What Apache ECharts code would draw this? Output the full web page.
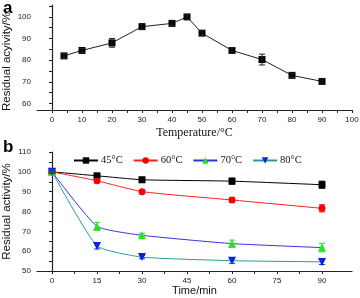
<!DOCTYPE html>
<html lang="en">
<head>
    <meta charset="UTF-8">
    <title>Residual activity</title>
    <style>
        html, body { margin: 0; padding: 0; background: #fff; }
    </style>
</head>
<body>
<div id="chart" style="width:360px;height:298px;"></div>
<script src="https://cdn.jsdelivr.net/npm/echarts@6/dist/echarts.min.js"></script>
<script>
// panel a: temperature
var tempX = [4, 10, 20, 30, 40, 45, 50, 60, 70, 80, 90];
var tempY = [82, 84.5, 88, 95.5, 97, 100, 92.5, 84.5, 80.3, 73, 70.2];
var tempErr = [1, 1, 2, 1.3, 1, 1, 1, 1.3, 2.5, 1, 1.2];

// panel b: time
var timeX = [0, 15, 30, 60, 90];
var seriesNames = ['45°C', '60°C', '70°C', '80°C'];
var v45 = [100, 98, 96, 95.3, 93.5];
var v60 = [100, 95.5, 90, 85.8, 81.6];
var v70 = [100, 72.5, 68, 63.8, 61.8];
var v80 = [100, 62.6, 57, 55.2, 54.6];
var e45 = [0.8, 1, 1.2, 1.5, 1.8];
var e60 = [0.8, 1, 1, 1.2, 1.8];
var e70 = [0.8, 2, 1, 1.8, 2.2];
var e80 = [0.8, 1.5, 0.8, 1.3, 1.3];

var tempTicks = [0, 10, 20, 30, 40, 50, 60, 70, 80, 90, 100];
var tempMinor = [0, 5, 10, 15, 20, 25, 30, 35, 40, 45, 50, 55, 60, 65, 70, 75, 80, 85, 90, 95, 100];
var actTicks = [60, 70, 80, 90, 100];
var actMinor = [60, 65, 70, 75, 80, 85, 90, 95, 100, 105];
var timeTicks = [0, 15, 30, 45, 60, 75, 90];
var timeMinor = [0, 7.5, 15, 22.5, 30, 37.5, 45, 52.5, 60, 67.5, 75, 82.5, 90];
var resTicks = [50, 60, 70, 80, 90, 100, 110];
var resMinor = [50, 55, 60, 65, 70, 75, 80, 85, 90, 95, 100, 105, 110];

var myChart = echarts.init(document.getElementById('chart'));

function pairs(xs, ys, es) {
    var res = [];
    for (var i = 0; i < xs.length; i++) {
        res.push(es ? [xs[i], ys[i], es[i]] : [xs[i], ys[i]]);
    }
    return res;
}

function errorBars(color) {
    return function (params, api) {
        var x = api.value(0), y = api.value(1), e = api.value(2);
        var hi = api.coord([x, y + e]);
        var lo = api.coord([x, y - e]);
        var w = 3;
        var st = { stroke: color, lineWidth: 1 };
        return {
            type: 'group',
            children: [
                { type: 'line', shape: { x1: hi[0], y1: hi[1], x2: lo[0], y2: lo[1] }, style: st },
                { type: 'line', shape: { x1: hi[0] - w, y1: hi[1], x2: hi[0] + w, y2: hi[1] }, style: st },
                { type: 'line', shape: { x1: lo[0] - w, y1: lo[1], x2: lo[0] + w, y2: lo[1] }, style: st }
            ]
        };
    };
}

var axisLine = { lineStyle: { color: '#222', width: 1.2 } };
var tickLabel = { fontSize: 8, color: '#222', fontFamily: 'Liberation Sans', margin: 6 };
var nameFont = { fontFamily: 'Liberation Sans', fontSize: 11.5, color: '#111', padding: [0, 8, 0, 0] };

var bLines = [
    { name: seriesNames[0], v: v45, e: e45, mark: '#000', line: '#000', sym: 'rect', size: 7 },
    { name: seriesNames[1], v: v60, e: e60, mark: '#ff0000', line: '#ff2020', sym: 'circle', size: 7 },
    { name: seriesNames[2], v: v70, e: e70, mark: '#22e622', line: '#3333dd', sym: 'triangle', size: 8 },
    { name: seriesNames[3], v: v80, e: e80, mark: '#0a1ee6', line: '#2a9a9a', sym: 'path://M0,0L10,0L5,10z', size: 8 }
];

var series = [
    {
        type: 'line',
        xAxisIndex: 0, yAxisIndex: 0,
        data: pairs(tempX, tempY),
        symbol: 'rect', symbolSize: 7,
        itemStyle: { color: '#000' },
        lineStyle: { color: '#222', width: 1 },
        z: 3
    },
    {
        type: 'custom',
        xAxisIndex: 0, yAxisIndex: 0,
        data: pairs(tempX, tempY, tempErr),
        renderItem: errorBars('#222'),
        z: 4
    }
];

bLines.forEach(function (s) {
    series.push({
        name: s.name,
        type: 'line',
        xAxisIndex: 1, yAxisIndex: 1,
        data: pairs(timeX, s.v),
        smooth: 0.15,
        symbol: s.sym, symbolSize: s.size,
        itemStyle: { color: s.mark },
        lineStyle: { color: s.line, width: 1 },
        z: 3
    });
    series.push({
        type: 'custom',
        xAxisIndex: 1, yAxisIndex: 1,
        data: pairs(timeX, s.v, s.e),
        renderItem: errorBars(s.mark),
        z: 4
    });
});

myChart.setOption({
    animation: false,
    grid: [
        { left: 37, right: 8, top: 5, bottom: 188, outerBoundsMode: 'none' },
        { left: 37, right: 8, top: 152, bottom: 27, outerBoundsMode: 'none' }
    ],
    legend: {
        data: seriesNames,
        left: 68, top: 150,
        itemWidth: 24, itemHeight: 8, itemGap: 10,
        textStyle: { fontFamily: 'Liberation Serif', fontSize: 10.5, color: '#111', padding: [0, 0, 0, -2] }
    },
    graphic: [
        { type: 'text', left: 3, top: 0, style: { text: 'a', font: 'bold 17px Liberation Sans', fill: '#000' } },
        { type: 'text', left: 3, top: 139, style: { text: 'b', font: 'bold 17px Liberation Sans', fill: '#000' } }
    ],
    xAxis: [
        {
            type: 'value', gridIndex: 0, min: -5, max: 100,
            name: 'Temperature/°C', nameLocation: 'middle', nameGap: 17, nameMoveOverlap: false,
            nameTextStyle: { fontFamily: 'Liberation Serif', fontSize: 12, color: '#111' },
            axisLine: axisLine, splitLine: { show: false },
            axisTick: { customValues: tempMinor, length: 3, lineStyle: { color: '#222' } },
            axisLabel: Object.assign({ customValues: tempTicks }, tickLabel)
        },
        {
            type: 'value', gridIndex: 1, min: -5, max: 100,
            name: 'Time/min', nameLocation: 'middle', nameGap: 14, nameMoveOverlap: false,
            nameTextStyle: { fontFamily: 'Liberation Sans', fontSize: 11, color: '#111' },
            axisLine: axisLine, splitLine: { show: false },
            axisTick: { customValues: timeMinor, length: 3, lineStyle: { color: '#222' } },
            axisLabel: Object.assign({ customValues: timeTicks }, tickLabel)
        }
    ],
    yAxis: [
        {
            type: 'value', gridIndex: 0, min: 57, max: 105.5,
            name: 'Residual acyivity/%', nameLocation: 'middle', nameGap: 24, nameMoveOverlap: false,
            nameTextStyle: nameFont,
            axisLine: Object.assign({ show: true }, axisLine), splitLine: { show: false },
            axisTick: { customValues: actMinor, length: 3, lineStyle: { color: '#222' } },
            axisLabel: Object.assign({ customValues: actTicks }, tickLabel)
        },
        {
            type: 'value', gridIndex: 1, min: 50, max: 110,
            name: 'Residual activity/%', nameLocation: 'middle', nameGap: 24, nameMoveOverlap: false,
            nameTextStyle: { fontFamily: 'Liberation Sans', fontSize: 11.5, color: '#111' },
            axisLine: Object.assign({ show: true }, axisLine), splitLine: { show: false },
            axisTick: { customValues: resMinor, length: 3, lineStyle: { color: '#222' } },
            axisLabel: Object.assign({ customValues: resTicks }, tickLabel)
        }
    ],
    series: series
});

window.addEventListener('resize', function () {
    myChart.resize();
});
</script>
</html>
